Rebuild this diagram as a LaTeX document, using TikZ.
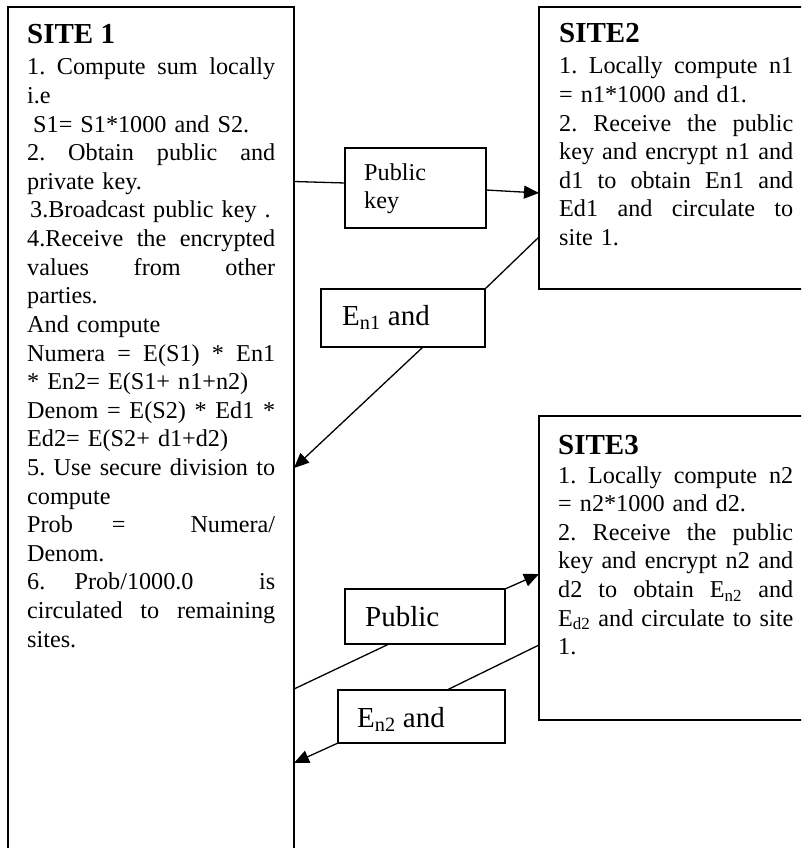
\documentclass[tikz,border=0pt]{standalone}
\usepackage{fontspec}
\setmainfont{Liberation Serif}
\usetikzlibrary{arrows.meta}
\frenchspacing
\newcommand{\jl}[1]{\makebox[\hsize][s]{\spaceskip=0.25em plus 1fil\relax #1}}
\newcommand{\lft}[1]{\makebox[\hsize][l]{#1}}
\tikzset{
  box/.style={draw, line width=1.5pt, rectangle, inner sep=0pt, outer sep=0pt, anchor=north west},
  body/.style={anchor=base west, inner sep=0pt, align=left, font=\fontsize{24.2}{28.6}\selectfont},
  head/.style={anchor=base west, inner sep=0pt, font=\fontsize{29}{33}\selectfont\bfseries},
  lbl/.style={anchor=base west, inner sep=0pt, align=left, font=\fontsize{24.2}{28}\selectfont},
  biglbl/.style={anchor=base west, inner sep=0pt, font=\fontsize{29}{33}\selectfont},
  conn/.style={line width=1.3pt},
  arr/.style={line width=1.3pt, -{Triangle[length=15pt,width=13pt]}}
}
\begin{document}
\begin{tikzpicture}[x=1pt,y=-1pt]
\useasboundingbox (0,0) rectangle (801,848);
\fill[white] (0,0) rectangle (801,848);
\clip (0,0) rectangle (801,848);
% big boxes
\node[box, minimum width=286pt, minimum height=900pt] (s1) at (8,7) {};
\node[box, minimum width=300pt, minimum height=282pt] (s2) at (539,7) {};
\node[box, minimum width=300pt, minimum height=304pt] (s3) at (539,416) {};
% small boxes
\node[box, minimum width=141pt, minimum height=80pt] (pk) at (345,148) {};
\node[box, minimum width=164pt, minimum height=58pt] (en1) at (321,289) {};
\node[box, minimum width=160pt, minimum height=55pt] (pub2) at (345,589) {};
\node[box, minimum width=167pt, minimum height=53pt] (en2) at (338,690) {};
% site 1 text
\node[head] (h1) at (27,44) {SITE 1};
\node[body, text width=248pt] (t1) at (27,75) {%
\jl{1. Compute sum locally}\\
\lft{i.e}\\
\lft{\hspace*{6pt}S1= S1*1000 and S2.}\\
\jl{2. Obtain public and}\\
\lft{private key.}\\
\lft{\hspace*{3pt}3.Broadcast public key .}\\
\jl{4.Receive the encrypted}\\
\jl{values from other}\\
\lft{parties.}\\
\lft{And compute}\\
\jl{Numera = E(S1) * En1}\\
\lft{* En2= E(S1+ n1+n2)}\\
\jl{Denom = E(S2) * Ed1 *}\\
\lft{Ed2= E(S2+ d1+d2)}\\
\jl{5. Use secure division to}\\
\lft{compute}\\
\jl{Prob\hspace{.25em plus 1fil}=\hspace{.25em plus 1.8fil}Numera/}\\
\lft{Denom.}\\
\jl{6.\hspace{.25em plus 1fil}Prob/1000.0\hspace{.5em plus 2.3fil}is}\\
\jl{circulated to remaining}\\
\lft{sites.}};
% site 2 text
\node[head] (h2) at (559,43) {SITE2};
\node[body, text width=234pt] (t2) at (559,74) {%
\jl{1. Locally compute n1}\\
\lft{= n1*1000 and d1.}\\
\jl{2. Receive the public}\\
\jl{key and encrypt n1 and}\\
\jl{d1 to obtain En1 and}\\
\jl{Ed1 and circulate to}\\
\lft{site 1.}};
% site 3 text
\node[head] (h3) at (558,454) {SITE3};
\node[body, text width=235pt] (t3) at (558,483) {%
\jl{1. Locally compute n2}\\
\lft{= n2*1000 and d2.}\\
\jl{2. Receive the public}\\
\jl{key and encrypt n2 and}\\
\jl{d2 to obtain E\textsubscript{n2} and}\\
\jl{E\textsubscript{d2} and circulate to site}\\
\lft{1.}};
% labels
\node[lbl] (pkt) at (364,208) {Public\\key};
\node[biglbl] (en1t) at (342,325) {E\textsubscript{n1} and};
\node[biglbl] (pub2t) at (365,626) {Public};
\node[biglbl] (en2t) at (357,727) {E\textsubscript{n2} and};
% connectors
\draw[conn] ([yshift=-174.5pt]s1.north east) -- ([yshift=5pt]pk.west);
\draw[arr] ([yshift=-2pt]pk.east) -- ([yshift=-186pt]s2.north west);
\draw[conn] ([yshift=-230pt]s2.north west) -- (en1.north east);
\draw[arr] ([xshift=20pt]en1.south) -- ([yshift=-461pt]s1.north east);
\draw[conn] ([yshift=-682pt]s1.north east) -- ([xshift=-36pt]pub2.south);
\draw[arr] (pub2.north east) -- ([yshift=-158pt]s3.north west);
\draw[conn] ([yshift=-229pt]s3.north west) -- ([xshift=25.5pt]en2.north);
\draw[arr] (en2.south west) -- ([yshift=-756pt]s1.north east);
\end{tikzpicture}
\end{document}
